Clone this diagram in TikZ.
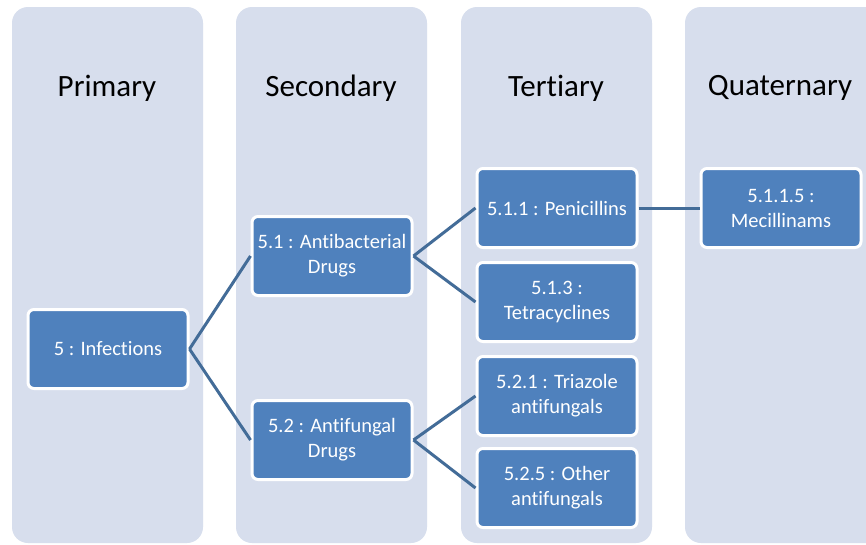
\documentclass[tikz,border=0pt]{standalone}
\usepackage{fontspec}
\setmainfont[Ligatures=NoCommon]{Carlito}
\begin{document}
\begin{tikzpicture}[x=1pt,y=-1pt,
  colbg/.style={fill=colfill,draw=none,rounded corners=16pt},
  hdr/.style={text=black,font=\fontsize{31}{36}\selectfont,inner sep=0pt},
  item/.style={draw=white,line width=3pt,fill=nodeblue,rounded corners=6pt,
    minimum width=160pt,minimum height=79pt,text=white,align=center,
    font=\fontsize{20.5}{25}\selectfont,inner sep=1pt},
  link/.style={draw=linkblue,line width=3pt}]
\definecolor{colfill}{RGB}{215,222,237}
\definecolor{nodeblue}{RGB}{79,129,189}
\definecolor{linkblue}{RGB}{67,108,152}
\useasboundingbox (0,0) rectangle (866,544);
\clip (0,0) rectangle (866,544);
\fill[white] (0,0) rectangle (866,544);
% columns
\path[colbg] (12,7) rectangle (203,543);
\path[colbg] (236,7) rectangle (427,543);
\path[colbg] (461,7) rectangle (652,543);
\path[colbg] (685,7) rectangle (900,543);
% headers
\node[hdr] (h1) at (107,88) {Primary};
\node[hdr] (h2) at (331,88) {Secondary};
\node[hdr] (h3) at (556,88) {Tertiary};
\node[hdr] (h4) at (780,88) {Quaternary};
% nodes
\node[item] (n5) at (108,349) {5 : Infections};
\node[item] (n51) at (332,256) {5.1 : Antibacterial\\Drugs};
\node[item] (n52) at (332,440) {5.2 : Antifungal\\Drugs};
\node[item] (n511) at (557,208) {5.1.1 : Penicillins};
\node[item] (n513) at (557,302) {5.1.3 :\\Tetracyclines};
\node[item] (n521) at (557,396) {5.2.1 : Triazole\\antifungals};
\node[item] (n525) at (557,488) {5.2.5 : Other\\antifungals};
\node[item] (n5115) at (781,208) {5.1.1.5 :\\Mecillinams};
% links
\draw[link] (n5.east) -- (n51.west);
\draw[link] (n5.east) -- (n52.west);
\draw[link] (n51.east) -- (n511.west);
\draw[link] (n51.east) -- (n513.west);
\draw[link] (n52.east) -- (n521.west);
\draw[link] (n52.east) -- (n525.west);
\draw[link] (n511.east) -- (n5115.west);
\end{tikzpicture}
\end{document}
